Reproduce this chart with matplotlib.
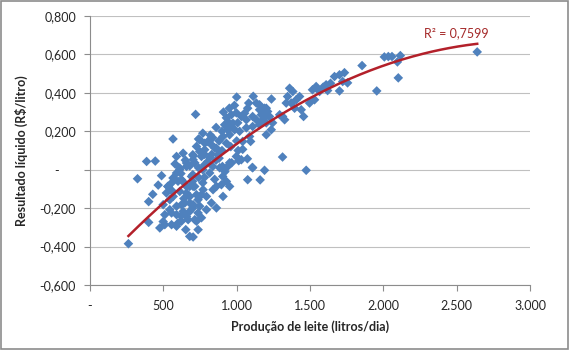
import numpy as np
import matplotlib
matplotlib.use('Agg')
import matplotlib.pyplot as plt
from matplotlib.patches import Rectangle

plt.rcParams['font.family'] = ['Lato', 'DejaVu Sans']

# milk production (litres/day) vs net result (R$/litre)
producao = [
    262, 324, 386, 445, 566, 720, 400, 428, 465, 488, 400, 476, 499, 653, 703,
    1313, 1075, 1160, 1190, 1107, 1073, 1014, 1095, 1041, 1000, 1113, 1237, 1456, 1474, 903,
    966, 2640, 2116, 2096, 2102, 1955, 1855, 2007, 2034, 2059, 1667, 1701, 1735, 1723, 1756,
    1701, 1610, 1542, 1517, 1565, 1497, 1531, 1440, 1361, 1383, 1347, 1372, 1406, 1429, 1395,
    1338, 1313, 1293, 1327, 1190, 1156, 1177, 1211, 1224, 1245, 1202, 1168, 1590, 1640, 1620,
    1082, 1134, 1075, 1156, 1202, 930, 964, 998, 1032, 1054, 952, 1007, 1066, 1109, 1134,
    1168, 1190, 939, 973, 1020, 1066, 1109, 1156, 918, 907, 1088, 1202, 1236, 1041, 769,
    748, 803, 837, 726, 782, 850, 701, 760, 816, 871, 714, 782, 837, 884, 998,
    1032, 952, 1109, 612, 658, 705, 748, 782, 828, 862, 930, 952, 986, 975, 566,
    530, 633, 701, 769, 816, 939, 905, 769, 680, 862, 952, 590, 556, 567, 544,
    510, 590, 624, 590, 556, 590, 635, 612, 658, 703, 692, 624, 658, 714, 612,
    680, 726, 646, 703, 680, 737, 658, 714, 624, 737, 680, 510, 544, 590, 556,
    635, 680, 737, 794, 839, 896, 930, 907, 794, 726, 669, 601, 658, 703, 771,
    828, 862, 748, 499, 533, 521, 860, 800, 880, 900, 860, 830, 780, 850, 740,
    900, 960, 1000, 1010, 910, 950, 985, 620, 680, 740, 700, 760, 640, 560, 600,
    780, 740, 820, 880, 920, 650, 700, 620, 760, 580,
]
resultado = [
    -0.385, -0.047, 0.043, 0.045, 0.160, 0.288, -0.166, -0.128, -0.080, -0.031, -0.274, -0.303, -0.270, -0.312, -0.350,
    0.066, -0.052, -0.053, -0.003, 0.012, 0.057, 0.047, 0.147, 0.106, 0.378, 0.382, 0.368, 0.277, -0.003, 0.017,
    0.036, 0.613, 0.594, 0.561, 0.478, 0.410, 0.542, 0.587, 0.589, 0.589, 0.485, 0.494, 0.505, 0.459, 0.452,
    0.410, 0.442, 0.433, 0.416, 0.407, 0.347, 0.364, 0.312, 0.424, 0.407, 0.381, 0.347, 0.364, 0.381, 0.320,
    0.347, 0.277, 0.286, 0.260, 0.320, 0.338, 0.286, 0.303, 0.277, 0.244, 0.244, 0.251, 0.430, 0.450, 0.412,
    0.347, 0.347, 0.320, 0.312, 0.320, 0.270, 0.286, 0.296, 0.277, 0.294, 0.242, 0.244, 0.260, 0.277, 0.260,
    0.286, 0.270, 0.208, 0.218, 0.200, 0.218, 0.225, 0.234, 0.234, 0.173, 0.173, 0.182, 0.208, 0.147, 0.190,
    0.156, 0.147, 0.166, 0.121, 0.104, 0.114, 0.078, 0.069, 0.062, 0.078, 0.036, 0.026, 0.017, 0.010, 0.069,
    0.052, 0.036, 0.010, 0.000, 0.035, 0.072, 0.095, 0.138, 0.130, 0.112, 0.138, 0.182, 0.208, 0.242, -0.043,
    -0.087, -0.061, -0.026, 0.000, -0.017, 0.017, -0.035, -0.068, -0.087, -0.087, -0.087, -0.017, -0.069, -0.139, -0.208,
    -0.234, -0.234, -0.182, -0.294, -0.286, 0.069, 0.086, 0.009, 0.017, 0.052, -0.035, -0.052, -0.087, -0.087, -0.113,
    -0.139, -0.130, -0.173, -0.182, -0.217, -0.225, -0.243, -0.260, -0.268, -0.312, -0.347, -0.286, -0.156, -0.190, -0.225,
    -0.217, -0.173, -0.156, -0.139, -0.104, -0.078, -0.061, -0.139, -0.208, -0.268, -0.260, -0.277, -0.121, -0.087, -0.104,
    -0.173, -0.199, -0.190, -0.182, -0.087, -0.121, 0.050, 0.040, 0.150, 0.200, 0.220, 0.080, -0.040, -0.050, -0.040,
    0.100, 0.120, 0.150, 0.100, 0.300, 0.320, 0.335, -0.020, 0.020, 0.010, -0.060, -0.130, -0.150, -0.110, -0.060,
    0.080, 0.160, 0.180, 0.060, -0.010, 0.050, -0.200, -0.240, -0.250, 0.030,
]

x_ticks = [0, 500, 1000, 1500, 2000, 2500, 3000]
x_tick_labels = ['-', '500', '1.000', '1.500', '2.000', '2.500', '3.000']
y_ticks = [0.8, 0.6, 0.4, 0.2, 0.0, -0.2, -0.4, -0.6]
y_tick_labels = ['0,800', '0,600', '0,400', '0,200', '-     ', '-0,200', '-0,400', '-0,600']
r2_label = 'R² = 0,7599'

x = np.array(producao)
y = np.array(resultado)

fig = plt.figure(figsize=(5.7, 3.5), dpi=100)
ax = fig.add_axes([90 / 570, 65 / 350, 440 / 570, 269 / 350])

# light gray chart border like excel
fig.patches.append(Rectangle((0.002, 0.003), 0.995, 0.993, transform=fig.transFigure,
                             fill=False, edgecolor='#8c8c8c', linewidth=1.2))

ax.scatter(x, y, marker='D', s=24, color='#4F81BD', edgecolors='none', zorder=3)

# 2nd order polynomial trendline
coef = np.polyfit(x, y, 2)
xs = np.linspace(x.min(), x.max(), 200)
ax.plot(xs, np.polyval(coef, xs), color='#B3202A', linewidth=1.8, zorder=4)
ax.text(2500, 0.71, r2_label, color='#A52A2A', fontsize=9, ha='center', va='center')

ax.set_xlim(0, 3000)
ax.set_ylim(-0.6, 0.8)
ax.set_xticks(x_ticks)
ax.set_xticklabels(x_tick_labels)
ax.set_yticks(y_ticks)
ax.set_yticklabels(y_tick_labels)
ax.tick_params(axis='both', labelsize=9, colors='#262626', length=4, width=0.8)
ax.tick_params(axis='y', color='#8c8c8c', pad=6)
ax.tick_params(axis='x', color='#8c8c8c', pad=7)

ax.grid(axis='y', color='#c0c0c0', linewidth=0.8)
ax.set_axisbelow(True)
for side in ['top', 'right']:
    ax.spines[side].set_visible(False)
for side in ['left', 'bottom']:
    ax.spines[side].set_color('#8c8c8c')
    ax.spines[side].set_linewidth(0.8)

ax.set_xlabel('Produção de leite (litros/dia)', fontsize=9, fontweight='bold', color='#262626', labelpad=6)
ax.set_ylabel('Resultado líquido (R$/litro)', fontsize=9, fontweight='bold', color='#262626', labelpad=8)

plt.savefig('out.png', dpi=100)
